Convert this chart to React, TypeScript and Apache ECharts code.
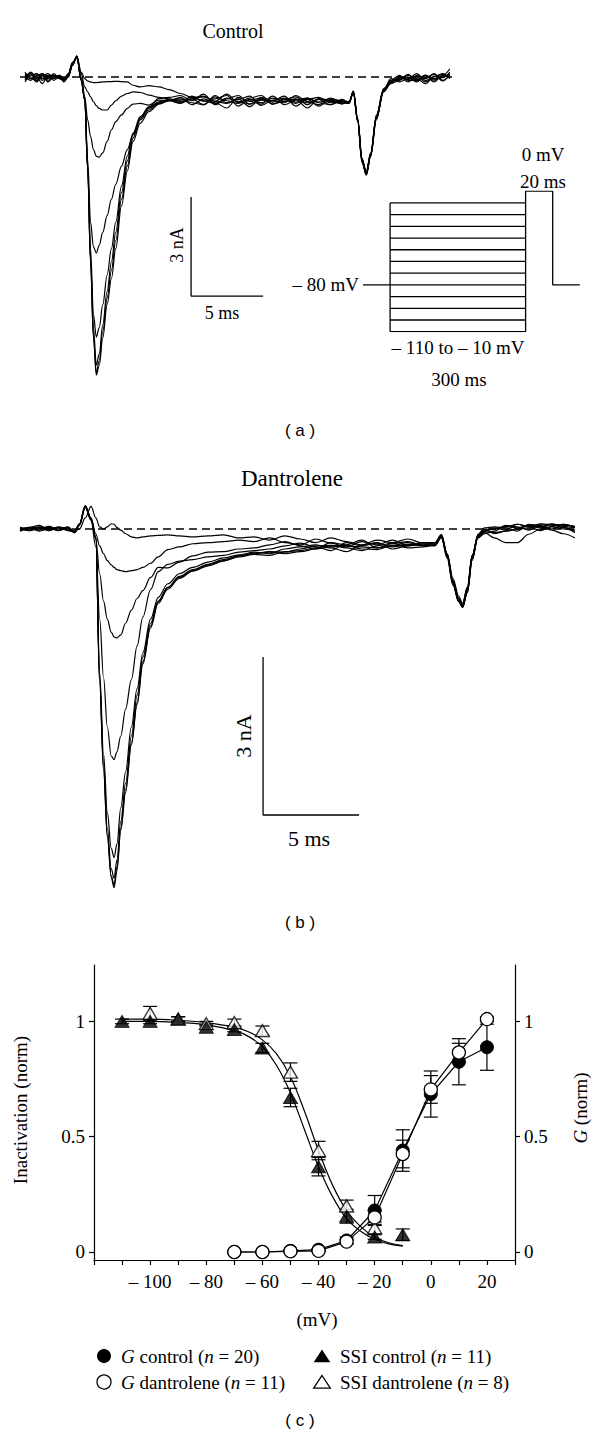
import React, { useEffect, useRef } from 'react';
import * as echarts from 'echarts';

// ---------------- Panel (a): Control current traces (ms, nA) ----------------
const TIME_A = [0, 0.4, 0.8, 1.2, 1.6, 2.0, 2.4, 2.7, 3.0, 3.3, 3.6, 3.9, 4.15, 4.35, 4.55, 4.75, 4.95, 5.15, 5.4, 5.7, 6.0, 6.3, 6.7, 7.1, 7.5, 8.0, 8.6, 9.3, 10.0, 10.8, 11.6, 12.4, 13.2, 14.0, 14.8, 15.6, 16.4, 17.2, 18.0, 18.8, 19.6, 20.4, 21.2, 22.0, 22.5, 22.8, 23.1, 23.4, 23.7, 24.0, 24.4, 24.9, 25.4, 26.0, 26.6, 27.2, 27.8, 28.4, 29.0, 29.5];

const TRACE_A1 = [0.05, -0.05, 0.1, -0.1, 0.0, 0.05, 0.0, -0.1, 0.05, 0.4,
  0.62, 0.15,
  -0.05, -0.12, -0.15, -0.17, -0.17, -0.16, -0.15, -0.14, -0.14, -0.13, -0.14, -0.15, -0.25, -0.3, -0.26, -0.3, -0.38,
  -0.5, -0.62, -0.58, -0.74, -0.52, -0.78, -0.64, -0.56, -0.82, -0.68, -0.6, -0.84, -0.66, -0.74, -0.8, -0.75,
  -0.45, -1.3, -2.5, -2.9, -2.35, -1.2, -0.4, -0.15, -0.05, 0.0, -0.15, 0.05, -0.1, 0.05, 0.25];
const TRACE_A2 = [-0.1, 0.1, -0.05, 0.05, -0.15, 0.0, 0.05, -0.05, 0.1, 0.45,
  0.6, 0.1,
  -0.3, -0.45, -0.6, -0.75, -0.87, -0.95, -1.0, -1.0, -0.85, -0.72, -0.58, -0.5, -0.45, -0.47, -0.55, -0.62, -0.66,
  -0.74, -0.66, -0.84, -0.56, -0.78, -0.66, -0.9, -0.62, -0.72, -0.78, -0.56, -0.74, -0.84, -0.64, -0.74, -0.78,
  -0.42, -1.25, -2.45, -2.95, -2.4, -1.15, -0.35, -0.1, 0.05, -0.15, 0.05, -0.05, 0.1, -0.1, 0.05];
const TRACE_A3 = [0.1, 0.0, -0.15, 0.05, 0.1, -0.05, 0.05, -0.15, 0.0, 0.35,
  0.64, 0.0,
  -0.6, -1.3, -1.8, -2.2, -2.4, -2.43, -2.3, -1.95, -1.6, -1.35, -1.15, -0.95, -0.82, -0.8, -0.85, -0.7, -0.72,
  -0.62, -0.84, -0.66, -0.78, -0.94, -0.62, -0.74, -0.82, -0.58, -0.84, -0.7, -0.64, -0.78, -0.84, -0.68, -0.76,
  -0.48, -1.35, -2.55, -2.97, -2.35, -1.25, -0.45, -0.2, -0.1, 0.05, -0.05, -0.2, 0.0, 0.1, -0.05];
const TRACE_A4 = [-0.05, 0.15, 0.0, -0.2, 0.05, 0.05, -0.05, -0.1, 0.05, 0.4,
  0.58, -0.05,
  -0.6, -2.5, -4.4, -5.15, -5.33, -5.1, -4.7, -4.2, -3.7, -3.25, -2.7, -2.2, -1.75, -1.25, -0.9, -0.65, -0.62,
  -0.56, -0.72, -0.52, -0.84, -0.66, -0.56, -0.82, -0.7, -0.72, -0.58, -0.88, -0.68, -0.62, -0.78, -0.72, -0.8,
  -0.45, -1.3, -2.5, -2.85, -2.3, -1.2, -0.42, -0.05, -0.15, -0.05, 0.1, -0.1, -0.05, 0.0, 0.1];
const TRACE_A5 = [0.0, -0.1, 0.05, 0.1, -0.1, 0.0, 0.0, -0.12, 0.0, 0.38,
  0.62, -0.1,
  -0.7, -2.7, -5.2, -7.2, -7.88, -7.6, -6.9, -6.0, -5.2, -4.4, -3.3, -2.4, -1.7, -1.2, -0.92, -0.75, -0.68,
  -0.78, -0.58, -0.74, -0.66, -0.56, -0.88, -0.68, -0.78, -0.64, -0.74, -0.68, -0.94, -0.66, -0.7, -0.82, -0.74,
  -0.5, -1.35, -2.6, -2.95, -2.4, -1.3, -0.38, -0.18, 0.02, -0.1, -0.1, 0.05, -0.15, 0.05, 0.0];
const TRACE_A6 = [0.15, -0.05, -0.1, 0.0, 0.05, -0.05, 0.05, -0.08, 0.08, 0.42,
  0.6, -0.1,
  -0.7, -2.75, -5.5, -7.6, -8.73, -8.4, -7.5, -6.5, -5.6, -4.7, -3.5, -2.55, -1.75, -1.25, -0.95, -0.78, -0.72,
  -0.8, -0.66, -0.6, -0.74, -0.8, -0.68, -0.58, -0.86, -0.7, -0.64, -0.76, -0.68, -0.88, -0.7, -0.78, -0.8,
  -0.44, -1.3, -2.5, -2.9, -2.32, -1.2, -0.4, -0.12, -0.08, 0.08, -0.12, -0.02, 0.08, -0.12, 0.08];
const TRACE_A7 = [-0.15, 0.05, 0.1, -0.05, -0.05, 0.1, -0.05, -0.12, 0.02, 0.36,
  0.63, -0.1,
  -0.7, -2.8, -5.6, -7.85, -8.97, -8.6, -7.7, -6.7, -5.85, -4.95, -3.7, -2.7, -1.85, -1.3, -1.0, -0.8, -0.7,
  -0.66, -0.78, -0.84, -0.6, -0.72, -0.8, -0.7, -0.64, -0.82, -0.74, -0.66, -0.78, -0.68, -0.84, -0.74, -0.77,
  -0.46, -1.32, -2.55, -2.92, -2.36, -1.22, -0.44, -0.16, -0.02, -0.08, 0.02, -0.15, 0.02, 0.08, -0.02];
const TRACE_A8 = [0.05, 0.1, -0.1, 0.1, 0.0, -0.1, 0.0, -0.05, 0.06, 0.4,
  0.6, -0.1,
  -0.7, -2.8, -5.6, -7.9, -9.03, -8.75, -7.9, -6.9, -6.1, -5.2, -3.9, -2.85, -1.95, -1.4, -1.05, -0.82, -0.72,
  -0.7, -0.62, -0.72, -0.8, -0.64, -0.74, -0.82, -0.68, -0.76, -0.68, -0.8, -0.64, -0.76, -0.68, -0.72, -0.78,
  -0.45, -1.3, -2.52, -2.97, -2.4, -1.25, -0.42, -0.14, -0.06, -0.02, -0.08, 0.06, -0.06, -0.02, 0.15];
const TRACES_A = [TRACE_A1, TRACE_A2, TRACE_A3, TRACE_A4, TRACE_A5, TRACE_A6, TRACE_A7, TRACE_A8];

// Voltage protocol (schematic, not to scale)
const PROTO_LEVELS = [-10, -20, -30, -40, -50, -60, -70, -80, -90, -100, -110, -120];
const PROTO_HOLD = -80;
const PROTO_TEST = 0;
const PROTO_X = [0, 1, 6, 7, 8]; // hold start, prepulse start, prepulse end, test end, end

// ---------------- Panel (b): Dantrolene current traces (ms, nA) ----------------
const TIME_B = [0, 0.5, 1, 1.5, 2, 2.5, 2.85, 3.1, 3.4, 3.7, 3.95, 4.15, 4.35, 4.55, 4.75, 4.9, 5.05, 5.25, 5.5, 5.8, 6.1, 6.4, 6.8, 7.2, 7.7, 8.3, 9.0, 9.8, 10.6, 11.4, 12.2, 13.0, 13.8, 14.6, 15.4, 16.2, 17.0, 17.8, 18.6, 19.4, 20.2, 21.0, 21.6, 21.95, 22.25, 22.55, 22.85, 23.05, 23.3, 23.55, 23.85, 24.2, 24.7, 25.3, 25.9, 26.5, 27.1, 27.7, 28.3, 28.9];

const TRACE_B1 = [0.0, 0.03, 0.07, -0.02, 0.04, 0.0, -0.04, 0.0, 0.21, 0.43,
  0.21, 0.04, 0.0, 0.04, 0.1, 0.09, 0.03, -0.02, -0.09, -0.15, -0.17, -0.15, -0.13, -0.12, -0.11, -0.13, -0.15, -0.13, -0.11, -0.17,
  -0.15, -0.21, -0.13, -0.19, -0.26, -0.17, -0.24, -0.3, -0.21, -0.26, -0.19, -0.27,
  -0.27, -0.13, -0.47, -0.98, -1.32, -1.43, -1.11, -0.51,
  -0.17, -0.04, 0.0, 0.04, 0.09, 0.04, 0.1, 0.07, 0.09, 0.04];
const TRACE_B2 = [-0.04, 0.0, 0.04, 0.02, -0.03, 0.04, -0.07, 0.09, 0.43, 0.21,
  -0.09, -0.32, -0.47, -0.6, -0.68, -0.73, -0.77, -0.79, -0.81, -0.79, -0.77, -0.73, -0.65, -0.53, -0.39, -0.34, -0.28, -0.26, -0.24, -0.21,
  -0.24, -0.17, -0.26, -0.3, -0.19, -0.27, -0.34, -0.24, -0.3, -0.21, -0.32, -0.26,
  -0.26, -0.1, -0.51, -1.02, -1.37, -1.47, -1.15, -0.53,
  -0.13, 0.0, -0.09, -0.04, 0.0, 0.07, 0.04, 0.1, 0.05, 0.02];
const TRACE_B3 = [0.02, -0.03, 0.0, 0.05, 0.0, 0.03, -0.05, 0.1, 0.44, 0.19,
  -0.2, -0.85, -1.37, -1.71, -1.96, -2.05, -2.07, -2.01, -1.79, -1.54, -1.32, -1.17, -0.92, -0.73, -0.74, -0.63, -0.51, -0.44, -0.43, -0.38,
  -0.36, -0.3, -0.24, -0.32, -0.38, -0.26, -0.3, -0.21, -0.36, -0.28, -0.24, -0.31,
  -0.31, -0.17, -0.56, -1.07, -1.38, -1.45, -1.2, -0.6,
  -0.15, -0.07, -0.17, -0.26, -0.26, -0.1, 0.0, 0.04, 0.0, -0.04];
const TRACE_B4 = [-0.03, 0.02, -0.04, 0.0, 0.03, -0.02, -0.03, 0.09, 0.41, 0.17,
  -0.34, -1.71, -2.82, -3.76, -4.31, -4.38, -4.23, -3.93, -3.42, -2.86, -2.22, -1.67, -1.15, -0.81, -0.67, -0.61, -0.58, -0.53, -0.5, -0.44,
  -0.41, -0.38, -0.32, -0.27, -0.34, -0.41, -0.26, -0.32, -0.27, -0.34, -0.3, -0.26,
  -0.29, -0.14, -0.5, -1.01, -1.35, -1.49, -1.18, -0.56,
  -0.1, 0.02, 0.04, 0.02, -0.04, 0.09, 0.07, 0.0, 0.07, 0.05];
const TRACE_B5 = [0.0, -0.02, 0.03, -0.03, 0.02, 0.03, -0.07, 0.07, 0.43, 0.17,
  -0.17, -2.73, -4.27, -5.38, -6.06, -6.24, -5.98, -5.29, -4.61, -3.76, -3.03, -2.35, -1.71, -1.3, -1.04, -0.85, -0.73, -0.63, -0.55, -0.49,
  -0.44, -0.47, -0.38, -0.34, -0.3, -0.36, -0.43, -0.31, -0.26, -0.38, -0.32, -0.29,
  -0.32, -0.15, -0.53, -1.04, -1.38, -1.49, -1.21, -0.58,
  -0.17, -0.09, -0.04, 0.07, 0.04, -0.02, 0.09, 0.09, 0.02, -0.02];
const TRACE_B6 = [0.03, 0.0, -0.02, 0.03, -0.02, 0.0, -0.04, 0.1, 0.44, 0.2,
  -0.17, -2.82, -4.44, -5.68, -6.45, -6.63, -6.28, -5.55, -4.83, -3.93, -3.16, -2.43, -1.79, -1.37, -1.11, -0.9, -0.77, -0.67, -0.58, -0.51,
  -0.47, -0.43, -0.44, -0.38, -0.32, -0.31, -0.36, -0.41, -0.32, -0.27, -0.36, -0.34,
  -0.31, -0.12, -0.47, -0.94, -1.28, -1.41, -1.11, -0.5,
  -0.14, -0.03, 0.02, -0.02, 0.09, 0.05, -0.03, 0.05, 0.09, 0.03];
const TRACE_B7 = [-0.02, 0.03, 0.02, -0.03, 0.03, -0.03, -0.06, 0.09, 0.43, 0.17,
  -0.17, -2.9, -4.53, -5.81, -6.62, -6.81, -6.49, -5.72, -5.0, -4.1, -3.33, -2.56, -1.88, -1.41, -1.14, -0.94, -0.8, -0.7, -0.61, -0.53,
  -0.48, -0.5, -0.43, -0.41, -0.36, -0.32, -0.31, -0.38, -0.39, -0.31, -0.26, -0.32,
  -0.3, -0.15, -0.51, -1.02, -1.37, -1.48, -1.16, -0.55,
  -0.15, -0.05, -0.07, -0.04, 0.0, 0.02, 0.05, -0.02, -0.09, -0.17];
const TRACE_B8 = [0.01, -0.03, 0.03, 0.01, -0.03, 0.02, -0.05, 0.09, 0.42, 0.19,
  -0.17, -2.95, -4.57, -5.85, -6.58, -6.76, -6.41, -5.68, -4.95, -4.06, -3.29, -2.52, -1.84, -1.38, -1.11, -0.92, -0.79, -0.68, -0.6, -0.51,
  -0.46, -0.44, -0.47, -0.43, -0.38, -0.34, -0.32, -0.34, -0.36, -0.32, -0.29, -0.31,
  -0.28, -0.13, -0.49, -0.99, -1.32, -1.45, -1.14, -0.51,
  -0.12, -0.02, 0.0, 0.05, 0.02, 0.07, 0.02, 0.09, 0.03, -0.07];
const TRACES_B = [TRACE_B1, TRACE_B2, TRACE_B3, TRACE_B4, TRACE_B5, TRACE_B6, TRACE_B7, TRACE_B8];

// Scale bars (data units)
const SCALE_MS = 5;
const SCALE_NA = 3;

// ---------------- Panel (c): inactivation and conductance ----------------
const V_SSI_CONTROL = [-110, -100, -90, -80, -70, -60, -50, -40, -30, -20, -10];
const SSI_CONTROL = [1.0, 1.0, 1.01, 0.975, 0.965, 0.885, 0.67, 0.37, 0.155, 0.065, 0.075];
const SSI_CONTROL_SEM = [0.01, 0.01, 0.01, 0.01, 0.01, 0.02, 0.04, 0.04, 0.03, 0.01, 0.025];
const V_SSI_DANT = [-100, -90, -80, -70, -60, -50, -40, -30, -20];
const SSI_DANT = [1.035, 1.01, 0.99, 0.995, 0.96, 0.78, 0.44, 0.2, 0.105];
const SSI_DANT_SEM = [0.03, 0.01, 0.01, 0.015, 0.02, 0.04, 0.04, 0.025, 0.025];

const V_SSI_FIT = [-110, -100, -90, -80, -70, -65, -60, -55, -50, -45, -40, -35, -30, -25, -20, -15, -10];
const SSI_FIT_CONTROL = [1.0, 1.0, 0.995, 0.985, 0.96, 0.935, 0.89, 0.81, 0.69, 0.53, 0.37, 0.24, 0.145, 0.09, 0.055, 0.035, 0.025];
const SSI_FIT_DANT = [1.01, 1.01, 1.005, 0.995, 0.975, 0.955, 0.92, 0.86, 0.76, 0.61, 0.44, 0.29, 0.18, 0.11, 0.065, 0.04, 0.028];

const V_G = [-70, -60, -50, -40, -30, -20, -10, 0, 10, 20];
const G_CONTROL = [0.0, 0.0, 0.005, 0.01, 0.05, 0.18, 0.44, 0.685, 0.825, 0.888];
const G_CONTROL_SEM = [0.005, 0.005, 0.005, 0.005, 0.015, 0.065, 0.09, 0.1, 0.1, 0.1];
const G_DANT = [0.0, 0.0, 0.003, 0.005, 0.045, 0.15, 0.425, 0.705, 0.865, 1.01];
const G_DANT_SEM = [0.003, 0.003, 0.003, 0.003, 0.01, 0.03, 0.06, 0.06, 0.04, 0.01];

const X_TICKS = [-120, -110, -100, -90, -80, -70, -60, -50, -40, -30, -20, -10, 0, 10, 20, 30];
const X_LABELS = [-100, -80, -60, -40, -20, 0, 20];
const Y_TICKS = [0, 0.5, 1];

const LEGEND_ITEMS = [
  '{i|G} control ({i|n} = 20)',
  '{i|G} dantrolene ({i|n} = 11)',
  'SSI control ({i|n} = 11)',
  'SSI dantrolene ({i|n} = 8)',
];

const SERIF = '"Liberation Serif", "Times New Roman", serif';
const SANS = '"Liberation Sans", Arial, sans-serif';

function buildOption() {
  const lineStyle = { color: '#000', width: 1.2 };
  const line = (data: any[], xi: number, yi: number, extra: any = {}) => ({
    type: 'line', xAxisIndex: xi, yAxisIndex: yi, data, symbol: 'none', showSymbol: false,
    silent: true, lineStyle, ...extra,
  });
  const series: any[] = [];

  // Panel (a)
  series.push(line([[-0.35, 0], [29.65, 0]], 0, 0, { lineStyle: { color: '#000', width: 1.3, type: [8, 5] } }));
  TRACES_A.forEach((tr) => {
    series.push(line(TIME_A.map((t, i) => [t, tr[i]]), 0, 0, { smooth: 0.35, smoothMonotone: 'x' }));
  });
  const sbA = [11.53, -6.64];
  series.push(line([[sbA[0], sbA[1] + SCALE_NA], [sbA[0], sbA[1]], [sbA[0] + SCALE_MS, sbA[1]]], 0, 0, { lineStyle: { color: '#000', width: 1.3 } }));

  // Protocol
  const pStyle = { lineStyle: { color: '#000', width: 1.3 } };
  PROTO_LEVELS.forEach((L) => series.push(line([[PROTO_X[1], L], [PROTO_X[2], L]], 1, 1, pStyle)));
  series.push(line([[PROTO_X[0], PROTO_HOLD], [PROTO_X[1], PROTO_HOLD]], 1, 1, pStyle));
  series.push(line([[PROTO_X[1], PROTO_LEVELS[0]], [PROTO_X[1], PROTO_LEVELS[PROTO_LEVELS.length - 1]]], 1, 1, pStyle));
  series.push(line([
    [PROTO_X[2], PROTO_LEVELS[PROTO_LEVELS.length - 1]], [PROTO_X[2], PROTO_TEST],
    [PROTO_X[3], PROTO_TEST], [PROTO_X[3], PROTO_HOLD], [PROTO_X[4], PROTO_HOLD],
  ], 1, 1, pStyle));

  // Panel (b)
  series.push(line([[0, 0], [29.06, 0]], 2, 2, { lineStyle: { color: '#000', width: 1.3, type: [8, 5] } }));
  TRACES_B.forEach((tr) => {
    series.push(line(TIME_B.map((t, i) => [t, tr[i]]), 2, 2, { smooth: 0.35, smoothMonotone: 'x' }));
  });
  const sbB = [12.66, -5.43];
  series.push(line([[sbB[0], sbB[1] + SCALE_NA], [sbB[0], sbB[1]], [sbB[0] + SCALE_MS, sbB[1]]], 2, 2, { lineStyle: { color: '#000', width: 1.3 } }));

  // Panel (c)
  const errData = [
    ...V_SSI_CONTROL.map((v, i) => [v, SSI_CONTROL[i], SSI_CONTROL_SEM[i]]),
    ...V_SSI_DANT.map((v, i) => [v, SSI_DANT[i], SSI_DANT_SEM[i]]),
    ...V_G.map((v, i) => [v, G_CONTROL[i], G_CONTROL_SEM[i]]),
    ...V_G.map((v, i) => [v, G_DANT[i], G_DANT_SEM[i]]),
  ];
  series.push({
    type: 'custom', xAxisIndex: 3, yAxisIndex: 3, z: 1, silent: true,
    data: errData,
    encode: { x: 0, y: 1 },
    renderItem: (params: any, api: any) => {
      const x = api.value(0), y = api.value(1), e = api.value(2);
      const p1 = api.coord([x, y + e]);
      const p2 = api.coord([x, y - e]);
      const w = 7;
      const st = { stroke: '#000', lineWidth: 1.2 };
      return {
        type: 'group', children: [
          { type: 'line', shape: { x1: p1[0], y1: p1[1], x2: p2[0], y2: p2[1] }, style: st },
          { type: 'line', shape: { x1: p1[0] - w, y1: p1[1], x2: p1[0] + w, y2: p1[1] }, style: st },
          { type: 'line', shape: { x1: p2[0] - w, y1: p2[1], x2: p2[0] + w, y2: p2[1] }, style: st },
        ],
      };
    },
  });
  series.push(line(V_SSI_FIT.map((v, i) => [v, SSI_FIT_CONTROL[i]]), 3, 3, { smooth: 0.4, z: 2 }));
  series.push(line(V_SSI_FIT.map((v, i) => [v, SSI_FIT_DANT[i]]), 3, 3, { smooth: 0.4, z: 2 }));
  series.push({
    type: 'scatter', xAxisIndex: 3, yAxisIndex: 3, z: 3, silent: true,
    symbol: 'triangle', symbolSize: [14, 12],
    itemStyle: { color: '#fff', borderColor: '#000', borderWidth: 1.3 },
    data: V_SSI_DANT.map((v, i) => [v, SSI_DANT[i]]),
  });
  series.push({
    type: 'scatter', xAxisIndex: 3, yAxisIndex: 3, z: 4, silent: true,
    symbol: 'triangle', symbolSize: [14, 12],
    itemStyle: { color: '#000', borderColor: '#000', borderWidth: 1 },
    data: V_SSI_CONTROL.map((v, i) => [v, SSI_CONTROL[i]]),
  });
  series.push({
    type: 'line', xAxisIndex: 3, yAxisIndex: 3, z: 5, silent: true,
    symbol: 'circle', symbolSize: 13, showSymbol: true,
    lineStyle, itemStyle: { color: '#000', borderColor: '#000', borderWidth: 1 },
    data: V_G.map((v, i) => [v, G_CONTROL[i]]),
  });
  series.push({
    type: 'line', xAxisIndex: 3, yAxisIndex: 3, z: 6, silent: true,
    symbol: 'circle', symbolSize: 13, showSymbol: true,
    lineStyle, itemStyle: { color: '#fff', borderColor: '#000', borderWidth: 1.3 },
    data: V_G.map((v, i) => [v, G_DANT[i]]),
  });

  const hiddenX = (gi: number, min: number, max: number) => ({ type: 'value', gridIndex: gi, min, max, show: false });
  const hiddenY = (gi: number, min: number, max: number) => ({ type: 'value', gridIndex: gi, min, max, show: false });
  const axisLineC = { show: true, onZero: false, lineStyle: { color: '#000', width: 1.2 } };
  const axisTickStyle = { color: '#000', width: 1.2 };
  const labelC = { color: '#000', fontFamily: SERIF, fontSize: 19 };
  const fmtX = (v: number) => (v < 0 ? '\u2013 ' + Math.abs(v) : String(v));
  const fmtY = (v: number) => String(v);

  const txt = (text: string, x: number, y: number, size: number, opts: any = {}) => ({
    type: 'text', x, y, rotation: opts.rot || 0, silent: true, z: 100,
    style: {
      text, fill: '#000', fontFamily: opts.family || SERIF, fontSize: size,
      textAlign: opts.align || 'center', align: opts.align || 'center',
      textVerticalAlign: 'middle', verticalAlign: 'middle',
      rich: opts.rich,
    },
  });
  const richI = (size: number) => ({ i: { fontStyle: 'italic', fontFamily: SERIF, fontSize: size, fill: '#000' } });

  const lx1 = 104, lx2 = 322, ly1 = 1356, ly2 = 1382;
  const tri = (cx: number, cy: number) => [[cx, cy - 6.5], [cx + 8.3, cy + 6.2], [cx - 8.3, cy + 6.2]];

  const graphic: any[] = [
    txt('Control', 233, 31, 20),
    txt('3 nA', 177, 245, 18, { rot: Math.PI / 2 }),
    txt('5 ms', 222, 313, 18),
    txt('0 mV', 543, 154, 19),
    txt('20 ms', 543, 181, 19),
    txt('\u2013 80 mV', 359, 284, 19, { align: 'right' }),
    txt('\u2013 110 to \u2013 10 mV', 458, 347, 19),
    txt('300 ms', 459, 379, 19),
    txt('( a )', 300, 430, 17, { family: SANS }),

    txt('Dantrolene', 292, 478, 23),
    txt('3 nA', 243, 736, 22, { rot: Math.PI / 2 }),
    txt('5 ms', 309, 838, 22),
    txt('( b )', 300, 922, 17, { family: SANS }),

    txt('Inactivation (norm)', 20, 1110, 19, { rot: Math.PI / 2 }),
    txt('{i|G} (norm)', 580, 1108, 19, { rot: Math.PI / 2, rich: richI(19) }),
    txt('(mV)', 317, 1319, 19),

    { type: 'circle', shape: { cx: lx1, cy: ly1, r: 7 }, style: { fill: '#000' }, silent: true },
    { type: 'circle', shape: { cx: lx1, cy: ly2, r: 7 }, style: { fill: '#fff', stroke: '#000', lineWidth: 1.3 }, silent: true },
    { type: 'polygon', shape: { points: tri(lx2, ly1) }, style: { fill: '#000' }, silent: true },
    { type: 'polygon', shape: { points: tri(lx2, ly2) }, style: { fill: '#fff', stroke: '#000', lineWidth: 1.3 }, silent: true },
    txt(LEGEND_ITEMS[0], lx1 + 17, ly1, 19, { align: 'left', rich: richI(19) }),
    txt(LEGEND_ITEMS[1], lx1 + 17, ly2, 19, { align: 'left', rich: richI(19) }),
    txt(LEGEND_ITEMS[2], lx2 + 18, ly1, 19, { align: 'left', rich: richI(19) }),
    txt(LEGEND_ITEMS[3], lx2 + 18, ly2, 19, { align: 'left', rich: richI(19) }),

    txt('( c )', 300, 1420, 17, { family: SANS }),
  ];

  return {
    animation: false,
    backgroundColor: '#fff',
    grid: [
      { left: 20, top: 44, width: 432.72, height: 363, outerBoundsMode: 'none' },
      { left: 363, top: 191.2, width: 216.8, height: 140.5, outerBoundsMode: 'none' },
      { left: 20, top: 476.33, width: 558.72, height: 474, outerBoundsMode: 'none' },
      { left: 94, top: 965, width: 421, height: 295, outerBoundsMode: 'none' },
    ],
    xAxis: [
      hiddenX(0, -0.35, 29.7),
      hiddenX(1, 0, 8),
      hiddenX(2, 0, 29.1),
      {
        type: 'value', gridIndex: 3, min: -120, max: 30, interval: 10,
        axisLine: axisLineC,
        axisTick: { show: true, inside: false, length: 5, lineStyle: axisTickStyle, customValues: X_TICKS },
        axisLabel: { ...labelC, margin: 12, customValues: X_LABELS, formatter: fmtX },
        splitLine: { show: false },
      },
    ],
    yAxis: [
      hiddenY(0, -10, 1),
      hiddenY(1, -120, 0),
      hiddenY(2, -8, 1),
      {
        type: 'value', gridIndex: 3, min: -0.0347, max: 1.2446, position: 'left',
        axisLine: axisLineC,
        axisTick: { show: true, inside: false, length: 5, lineStyle: axisTickStyle, customValues: Y_TICKS },
        axisLabel: { ...labelC, margin: 9, customValues: Y_TICKS, formatter: fmtY },
        splitLine: { show: false },
      },
      {
        type: 'value', gridIndex: 3, min: -0.0347, max: 1.2446, position: 'right',
        axisLine: axisLineC,
        axisTick: { show: true, inside: false, length: 5, lineStyle: axisTickStyle, customValues: Y_TICKS },
        axisLabel: { ...labelC, margin: 9, customValues: Y_TICKS, formatter: fmtY },
        splitLine: { show: false },
      },
    ],
    series,
    graphic,
  };
}

export default function App() {
  const ref = useRef<HTMLDivElement>(null);
  useEffect(() => {
    if (!ref.current) return;
    const chart = echarts.init(ref.current, null, { renderer: 'svg' });
    chart.setOption(buildOption() as any);
    return () => chart.dispose();
  }, []);
  return (
    <div
      ref={ref}
      style={{ position: 'absolute', left: 0, top: 0, width: 600, height: 1435, background: '#fff' }}
    />
  );
}
